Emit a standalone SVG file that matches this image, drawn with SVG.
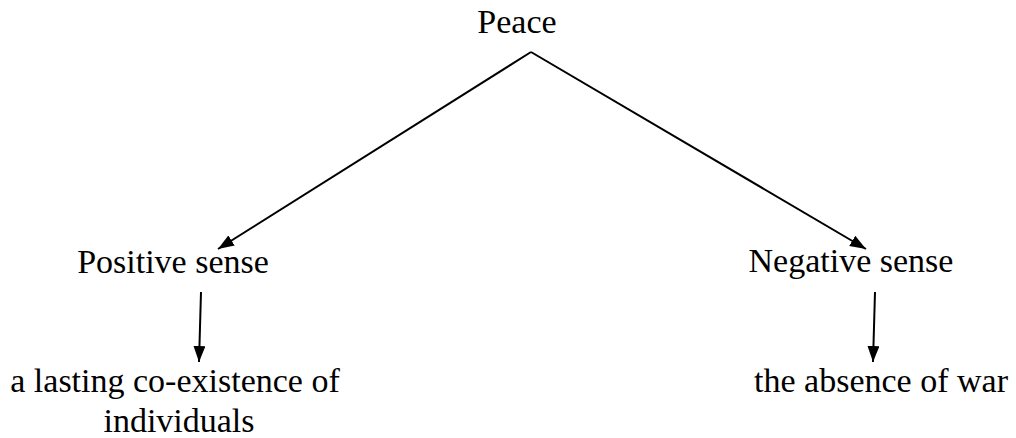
<svg xmlns="http://www.w3.org/2000/svg" width="1016" height="438" viewBox="0 0 1016 438">
<style>
.t{font-family:"Liberation Serif","Times New Roman",serif;font-size:34px;fill:#000}
.c{stroke:#000;stroke-width:2;fill:none}
</style>
<defs>
<marker id="ah" viewBox="0 0 16 12" refX="16" refY="6" markerWidth="16" markerHeight="12" markerUnits="userSpaceOnUse" orient="auto">
<path d="M0,0 L16,6 L0,12 Z" fill="#000"/>
</marker>
</defs>
<rect width="1016" height="438" fill="#fff"/>
<g id="connectors">
<path class="c" d="M531,52 L218,249" marker-end="url(#ah)"/>
<path class="c" d="M531,52 L866,249" marker-end="url(#ah)"/>
<path class="c" d="M201,292 L199,362" marker-end="url(#ah)"/>
<path class="c" d="M875,292 L873,362" marker-end="url(#ah)"/>
</g>
<g id="peace"><text class="t" x="517" y="33" text-anchor="middle">Peace</text></g>
<g id="positive"><text class="t" x="173" y="273" text-anchor="middle">Positive sense</text></g>
<g id="negative"><text class="t" x="851" y="272" text-anchor="middle">Negative sense</text></g>
<g id="coexistence"><text class="t" text-anchor="middle"><tspan x="175" y="392">a lasting co-existence of</tspan><tspan x="179" y="432">individuals</tspan></text></g>
<g id="absence"><text class="t" x="881" y="392" text-anchor="middle">the absence of war</text></g>
</svg>
